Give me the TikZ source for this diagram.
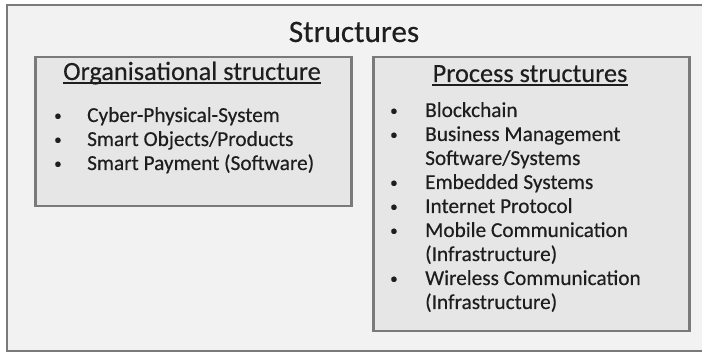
\documentclass[tikz,border=0pt]{standalone}
\usepackage{fontspec}
\setmainfont{Carlito}[FakeBold=0.35]
\usetikzlibrary{positioning}
\definecolor{frameGray}{HTML}{7A7A7A}
\definecolor{paneFill}{HTML}{F2F2F2}
\definecolor{boxFill}{HTML}{E6E6E6}
\definecolor{textDark}{HTML}{1E1E1E}
\newcommand{\itemDot}{\raisebox{1.5pt}{\fontsize{15}{15}\selectfont\textbullet}}

\begin{document}
\begin{tikzpicture}[x=1pt,y=-1pt,
        outerPane/.style = {fill=paneFill,draw=frameGray,line width=2pt},
        groupBox/.style = {fill=boxFill,draw=frameGray,line width=2.5pt,inner sep=0pt,anchor=north west},
        titleNode/.style = {font=\fontsize{31.2}{36}\selectfont,text=textDark,inner sep=0pt,anchor=base},
        headNode/.style = {font=\fontsize{26.3}{30}\selectfont,text=textDark,inner sep=0pt,anchor=base},
        listNode/.style = {font=\fontsize{21.3}{24}\selectfont,text=textDark,inner sep=0pt,anchor=base west},
        underLine/.style = {draw=textDark,line width=1.2pt}
        ]
        \useasboundingbox (0,0) rectangle (702,352);
        \clip (0,0) rectangle (702,352);
        \draw[outerPane] (7,5) rectangle (712,351); % pane runs off the right edge
        \node[titleNode] (title) at (354,42) {Structures};
        % organisational side
        \node[groupBox,minimum width=316pt,minimum height=149pt] (orgBox) at (34,56) {};
        \node[headNode] (orgHead) at (192,80) {Organisational structure};
        \draw[underLine] ([yshift=-3pt]orgHead.base west) -- ([yshift=-3pt]orgHead.base east);
        \node[listNode] (orgList) at (54,122) {\begin{tabular}[t]{@{}p{33pt}@{}l@{}}
        \itemDot & Cyber-Physical-System\\
        \itemDot & Smart Objects/Products\\
        \itemDot & Smart Payment (Software)
        \end{tabular}};
        % process side
        \node[groupBox,minimum width=316pt,minimum height=274pt] (procBox) at (372,56) {};
        \node[headNode] (procHead) at (530,82) {Process structures};
        \draw[underLine] ([yshift=-3pt]procHead.base west) -- ([yshift=-3pt]procHead.base east);
        \node[listNode] (procList) at (390,117) {\begin{tabular}[t]{@{}p{35pt}@{}l@{}}
        \itemDot & Blockchain\\
        \itemDot & Business Management\\
                 & Software/Systems\\
        \itemDot & Embedded Systems\\
        \itemDot & Internet Protocol\\
        \itemDot & Mobile Communication\\
                 & (Infrastructure)\\
        \itemDot & Wireless Communication\\
                 & (Infrastructure)
        \end{tabular}};
\end{tikzpicture}
\end{document}
